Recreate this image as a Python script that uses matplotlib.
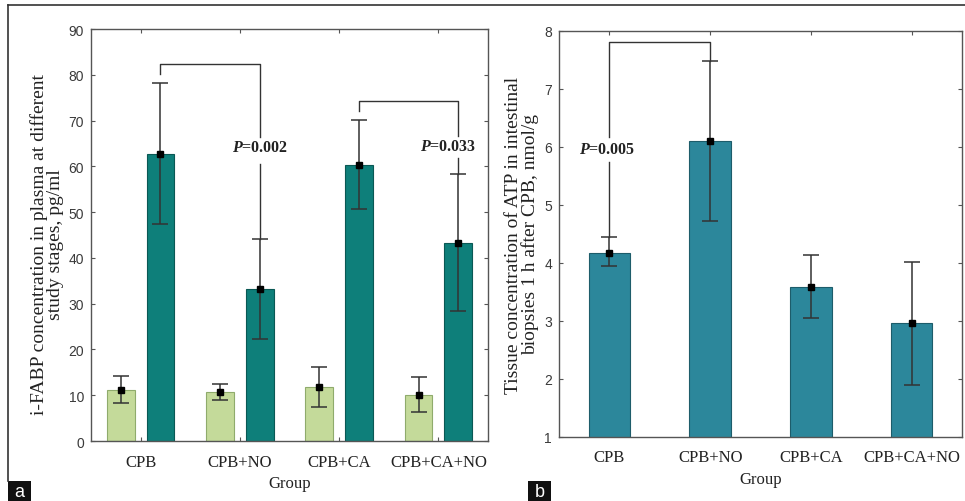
import matplotlib
matplotlib.use("Agg")
from matplotlib import pyplot as plt
from matplotlib.lines import Line2D
from matplotlib.patches import Rectangle
import numpy as np

plt.rcParams['mathtext.fontset'] = 'custom'
plt.rcParams['mathtext.it'] = 'Liberation Serif:italic:bold'
plt.rcParams['mathtext.rm'] = 'Liberation Serif:bold'

SERIF = 'Liberation Serif'
SANS = 'Liberation Sans'

groups = ['CPB', 'CPB+NO', 'CPB+CA', 'CPB+CA+NO']

# panel a: i-FABP (two stages per group)
fabp_stage1 = [11.2, 10.7, 11.8, 10.1]
fabp_stage1_lo = [8.2, 9.0, 7.5, 6.3]
fabp_stage1_hi = [14.3, 12.5, 16.2, 14.0]
fabp_stage2 = [62.7, 33.1, 60.3, 43.3]
fabp_stage2_lo = [47.3, 22.2, 50.7, 28.5]
fabp_stage2_hi = [78.3, 44.1, 70.1, 58.3]

# panel b: ATP
atp = [4.18, 6.10, 3.58, 2.96]
atp_lo = [3.94, 4.73, 3.06, 1.90]
atp_hi = [4.44, 7.48, 4.13, 4.01]

# significance annotations
pvals_a = ['0.002', '0.033']
pvals_b = ['0.005']

GREEN = '#c4da9a'
GREEN_EDGE = '#8fab6c'
TEAL = '#0e7f7a'
TEAL_EDGE = '#0a5854'
BLUE = '#2c879b'
BLUE_EDGE = '#1d5c6a'
INK = '#333333'

fig = plt.figure(figsize=(9.65, 5.02), dpi=100)
ax1 = fig.add_axes([0.0943, 0.1195, 0.4114, 0.8207])
ax2 = fig.add_axes([0.5793, 0.1275, 0.4176, 0.8088])


def style_axes(ax):
    for s in ax.spines.values():
        s.set_color('#555555')
        s.set_linewidth(1.0)
    ax.tick_params(direction='in', top=True, right=True, length=3,
                   color='#555555', width=0.8)
    ax.tick_params(axis='y', labelsize=10, labelcolor='#3a3a3a', pad=5)
    ax.tick_params(axis='x', labelsize=12, labelcolor='#222222', pad=9)
    for lab in ax.get_yticklabels():
        lab.set_fontfamily(SANS)
    for lab in ax.get_xticklabels():
        lab.set_fontfamily(SERIF)


def err(ax, x, y, lo, hi):
    y = np.asarray(y)
    yerr = [y - np.asarray(lo), np.asarray(hi) - y]
    ax.errorbar(x, y, yerr=yerr, fmt='s', color='black', ms=5,
                ecolor=INK, elinewidth=1.1, capsize=6, capthick=1.1, zorder=4)


x = np.arange(len(groups))

# ---- panel a
ax1.bar(x - 0.2, fabp_stage1, width=0.28, color=GREEN, edgecolor=GREEN_EDGE, linewidth=0.8, zorder=2)
ax1.bar(x + 0.2, fabp_stage2, width=0.28, color=TEAL, edgecolor=TEAL_EDGE, linewidth=0.8, zorder=2)
err(ax1, x - 0.2, fabp_stage1, fabp_stage1_lo, fabp_stage1_hi)
err(ax1, x + 0.2, fabp_stage2, fabp_stage2_lo, fabp_stage2_hi)
ax1.set_xlim(-0.5, 3.5)
ax1.set_ylim(0, 90)
ax1.set_yticks(np.arange(0, 91, 10))
ax1.set_xticks(x)
ax1.set_xticklabels(groups)
ax1.set_xlabel('Group', fontfamily=SERIF, fontsize=12, color='#222222', labelpad=4)
ax1.set_ylabel('i-FABP concentration in plasma at different\nstudy stages, pg/ml',
               fontfamily=SERIF, fontsize=14, color='#222222', linespacing=0.95)
ax1.yaxis.set_label_coords(-0.068, 0.48)
style_axes(ax1)

kw = dict(color=INK, lw=1.0, zorder=3)
# bracket CPB vs CPB+NO
ax1.plot([0.2, 0.2, 1.2, 1.2], [80.2, 82.3, 82.3, 66.4], **kw)
ax1.plot([1.2, 1.2], [60.5, 44.1], **kw)
ax1.text(1.2, 64.2, r'$P$=' + pvals_a[0], ha='center', va='center', fontsize=11.5,
         fontfamily=SERIF, fontweight='bold', color='#222222')
# bracket CPB+CA vs CPB+CA+NO
ax1.plot([2.2, 2.2, 3.2, 3.2], [72.1, 74.3, 74.3, 66.7], **kw)
ax1.plot([3.2, 3.2], [61.8, 58.3], **kw)
ax1.text(3.1, 64.5, r'$P$=' + pvals_a[1], ha='center', va='center', fontsize=11.5,
         fontfamily=SERIF, fontweight='bold', color='#222222')

# ---- panel b
ax2.bar(x, atp, width=0.41, color=BLUE, edgecolor=BLUE_EDGE, linewidth=0.8, zorder=2)
err(ax2, x, atp, atp_lo, atp_hi)
ax2.set_xlim(-0.5, 3.5)
ax2.set_ylim(1, 8)
ax2.set_yticks(np.arange(1, 9, 1))
ax2.set_xticks(x)
ax2.set_xticklabels(groups)
ax2.set_xlabel('Group', fontfamily=SERIF, fontsize=12, color='#222222', labelpad=4)
ax2.set_ylabel('Tissue concentration of ATP in intestinal\nbiopsies 1 h after CPB, nmol/g',
               fontfamily=SERIF, fontsize=14, color='#222222', linespacing=0.95)
ax2.yaxis.set_label_coords(-0.05, 0.5)
style_axes(ax2)

ax2.plot([0, 0, 1, 1], [6.17, 7.81, 7.81, 7.48], **kw)
ax2.plot([0, 0], [5.74, 4.44], **kw)
ax2.text(-0.02, 5.97, r'$P$=' + pvals_b[0], ha='center', va='center', fontsize=11.5,
         fontfamily=SERIF, fontweight='bold', color='#222222')

# outer frame lines
W, H = 965.0, 502.0
fig.add_artist(Line2D([8 / W, 1.0], [1 - 6 / H, 1 - 6 / H], color=INK, lw=1.2))
fig.add_artist(Line2D([8 / W, 8 / W], [1 - 6 / H, 1 - 482 / H], color=INK, lw=1.2))

# panel letters
for lx, letter in [(8, 'a'), (528, 'b')]:
    fig.add_artist(Rectangle((lx / W, 0), 23 / W, 20 / H, facecolor='#111111',
                             edgecolor='none', transform=fig.transFigure))
    fig.text((lx + 11.5) / W, 9.5 / H, letter, color='white', fontsize=13,
             fontfamily=SANS, ha='center', va='center')

fig.savefig('out.png', dpi=100)
